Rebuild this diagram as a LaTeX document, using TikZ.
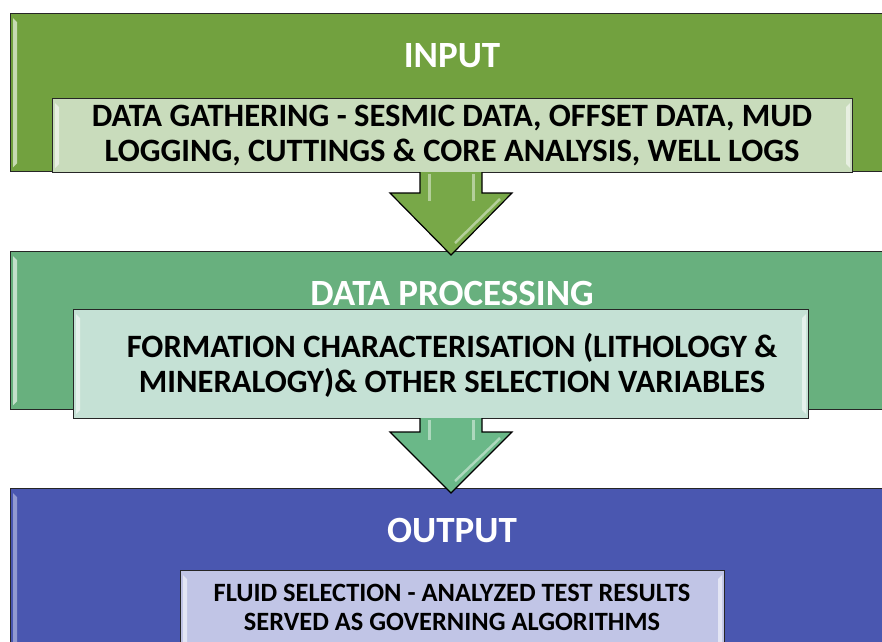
\documentclass[tikz,border=0pt]{standalone}
\usepackage{fontspec}
\setmainfont{Carlito}
\usetikzlibrary{calc}
\definecolor{inGreen}{HTML}{72A13F}
\definecolor{inCard}{HTML}{C9DCBC}
\definecolor{procGreen}{HTML}{68B07E}
\definecolor{procCard}{HTML}{C5E1D5}
\definecolor{outBlue}{HTML}{4A57B0}
\definecolor{outCard}{HTML}{C1C5E6}
\definecolor{arrowA}{HTML}{78A848}
\definecolor{arrowB}{HTML}{6AB888}
% light bevel strip on the left inner edge of a box
\newcommand\leftbevel[2]{%
  \fill[#2] ($(#1.north west)+(3,5)$) -- ($(#1.north west)+(7,9)$)
    -- ($(#1.south west)+(7,-9)$) -- ($(#1.south west)+(3,-5)$) -- cycle;}
\newcommand\rightbevel[2]{%
  \fill[#2] ($(#1.north east)+(-3,5)$) -- ($(#1.north east)+(-7,9)$)
    -- ($(#1.south east)+(-7,-9)$) -- ($(#1.south east)+(-3,-5)$) -- cycle;}
% block arrow pointing down: tail centre, tip, stem half width, head half width, shoulder depth
\newcommand\blockarrow[6]{%
  \filldraw[flow, fill=#6] ($(#1)+(-#3,0)$) -- ($(#1)+(-#3,#5)$) -- ($(#1)+(-#4,#5)$)
    -- (#2) -- ($(#1)+(#4,#5)$) -- ($(#1)+(#3,#5)$) -- ($(#1)+(#3,0)$);
  \draw[white, opacity=0.45, line width=3pt] ($(#1)+(-#3+9,2)$) -- ($(#1)+(-#3+9,#5+8)$);
  \draw[white, opacity=0.45, line width=3pt] ($(#1)+(#3-9,2)$) -- ($(#1)+(#3-9,#5+8)$);
  \draw[white, opacity=0.45, line width=2.5pt] ($(#1)+(#4-12,#5+6)$) -- ($(#2)+(4,-12)$);}
\begin{document}
\begin{tikzpicture}[x=1pt,y=-1pt,
  panel/.style={draw=black!85, line width=1.3pt, inner sep=0pt, anchor=north west},
  card/.style={draw=black!85, line width=1pt, inner sep=0pt, anchor=north west},
  title/.style={text=white, font=\fontsize{37}{42}\selectfont\bfseries},
  body/.style={font=\fontsize{32.6}{35}\selectfont\bfseries, align=center, text=black},
  small/.style={font=\fontsize{26.4}{29}\selectfont\bfseries, align=center, text=black},
  flow/.style={draw=black, line width=1.2pt, line join=miter}]
\useasboundingbox (0,0) rectangle (882,641);
\clip (0,0) rectangle (882,641);
\fill[white] (0,0) rectangle (882,641);

% INPUT stage
\node[panel, fill=inGreen, minimum width=900pt, minimum height=158pt] (inPanel) at (10,13) {};
\leftbevel{inPanel}{white!60!inGreen}
\node[title] (inTitle) at (452,56) {INPUT};
\node[card, fill=inCard, minimum width=800pt, minimum height=74pt] (inCardBox) at (52,98) {};
\leftbevel{inCardBox}{white!55!inCard}
\rightbevel{inCardBox}{white!55!inCard}
\node[body] (inText) at (452,136) {DATA GATHERING - SESMIC DATA, OFFSET DATA, MUD\\LOGGING, CUTTINGS \& CORE ANALYSIS, WELL LOGS};

% DATA PROCESSING stage
\node[panel, fill=procGreen, minimum width=900pt, minimum height=158pt] (procPanel) at (10,251) {};
\leftbevel{procPanel}{white!60!procGreen}
\node[title] (procTitle) at (452,293) {DATA PROCESSING};
\node[card, fill=procCard, minimum width=735pt, minimum height=109pt] (procCardBox) at (73,309) {};
\leftbevel{procCardBox}{white!55!procCard}
\rightbevel{procCardBox}{white!55!procCard}
\node[body] (procText) at (452,365) {FORMATION CHARACTERISATION (LITHOLOGY \&\\MINERALOGY)\& OTHER SELECTION VARIABLES};

% arrow from INPUT to DATA PROCESSING
\coordinate (a1tail) at (451,172);
\coordinate (a1tip) at (451,255);
\blockarrow{a1tail}{a1tip}{31}{61}{21}{arrowA}

% OUTPUT stage
\node[panel, fill=outBlue, minimum width=900pt, minimum height=170pt] (outPanel) at (10,488) {};
\leftbevel{outPanel}{white!40!outBlue}
\node[title] (outTitle) at (452,530) {OUTPUT};
\node[card, fill=outCard, minimum width=544pt, minimum height=90pt] (outCardBox) at (180,570) {};
\leftbevel{outCardBox}{white!55!outCard}
\rightbevel{outCardBox}{white!55!outCard}
\node[small] (outText) at (452,607) {FLUID SELECTION - ANALYZED TEST RESULTS\\SERVED AS GOVERNING ALGORITHMS};

% arrow from DATA PROCESSING to OUTPUT
\coordinate (a2tail) at (451,418);
\coordinate (a2tip) at (451,493);
\blockarrow{a2tail}{a2tip}{31}{61}{14}{arrowB}
\end{tikzpicture}
\end{document}
